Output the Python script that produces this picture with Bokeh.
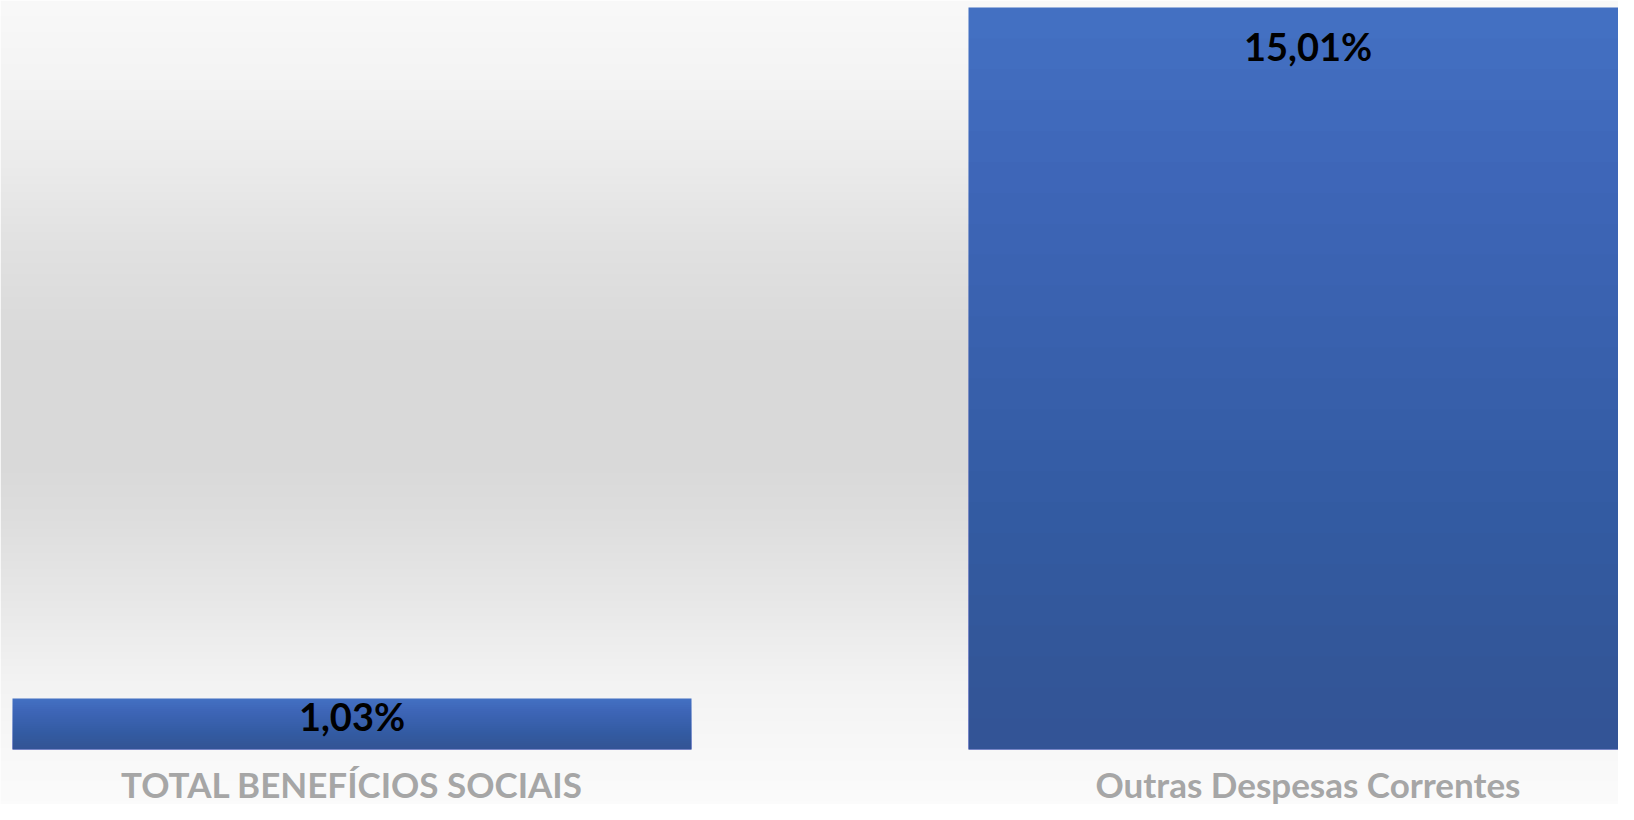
import numpy as np
from bokeh.plotting import figure
from bokeh.models import ColumnDataSource, Range1d
from bokeh.core.properties import value
from bokeh.embed import file_html
from bokeh.resources import INLINE

# ---- data ----
categories = ["TOTAL BENEFÍCIOS SOCIAIS", "Outras Despesas Correntes"]
values = [1.03, 15.01]
value_labels = ["1,03%", "15,01%"]

# ---- layout (screen px, canvas coords) ----
W, H = 1618, 804
CENTER0 = 351.5      # px position of first category centre
SPACING = 956.0      # px between category centres
BAR_PX = 679.0       # bar width px
BASE_Y = 749.0       # baseline px from top
TOP_Y = 7.0          # px of max value from top
LABEL_OFFSETS = [17, 38]   # data label offset below bar top (px)
CAT_OFFSET = 34            # category label offset below baseline (px)

ppu = (BASE_Y - TOP_Y) / max(values)
y_hi = max(values) + TOP_Y / ppu
y_lo = -(H - BASE_Y) / ppu
x_lo = -CENTER0 / SPACING
x_hi = x_lo + W / SPACING

p = figure(width=W, height=H, x_range=Range1d(x_lo, x_hi), y_range=Range1d(y_lo, y_hi),
           output_backend="svg", toolbar_location=None, min_border=0,
           x_axis_location=None, y_axis_location=None, outline_line_color=None)
p.grid.visible = False
p.background_fill_color = "white"
p.border_fill_color = "white"

# ---- background vertical gradient ----
stops_y = [0, 80, 160, 240, 320, 360, 460, 520, 600, 680, 760, 820]
stops_g = [249, 244, 236, 226, 219, 217, 217, 222, 232, 243, 249, 252]
rows = np.arange(H) + 0.5
g = np.interp(rows, stops_y, stops_g).astype(np.uint8)
img = np.empty((H, 2), dtype=np.uint32)
view = img.view(dtype=np.uint8).reshape((H, 2, 4))
for c in range(3):
    view[:, :, c] = g[:, None]
view[:, :, 3] = 255
img = np.ascontiguousarray(img[::-1])
p.image_rgba(image=[img], x=x_lo, y=y_lo, dw=x_hi - x_lo, dh=y_hi - y_lo)

# ---- bars ----
xs = list(range(len(categories)))
bar_w = BAR_PX / SPACING
src = ColumnDataSource(dict(x=xs, top=values, cat=categories, lab=value_labels, off=LABEL_OFFSETS))
p.vbar(x="x", top="top", bottom=0, width=bar_w, source=src,
       fill_color="#4472c4", line_color=None)
N = 24
for k in range(1, N + 1):
    f = k / N
    p.vbar(x=xs, top=[v * f for v in values], bottom=0, width=bar_w,
           fill_color="#1d417b", fill_alpha=0.02, line_color=None)

# ---- data labels ----
p.text(x="x", y="top", text="lab", y_offset="off", source=src,
       text_align="center", text_baseline="alphabetic",
       text_font=value("Lato"), text_font_style="bold", text_font_size="38px",
       text_color="#000000")

# ---- category labels ----
p.text(x=xs, y=[0] * len(xs), text=categories, y_offset=CAT_OFFSET,
       text_align="center", text_baseline="alphabetic",
       text_font=value("Lato"), text_font_style="bold", text_font_size="35px",
       text_color="#a6a6a6")

open("out.html", "w").write(file_html(p, INLINE))
